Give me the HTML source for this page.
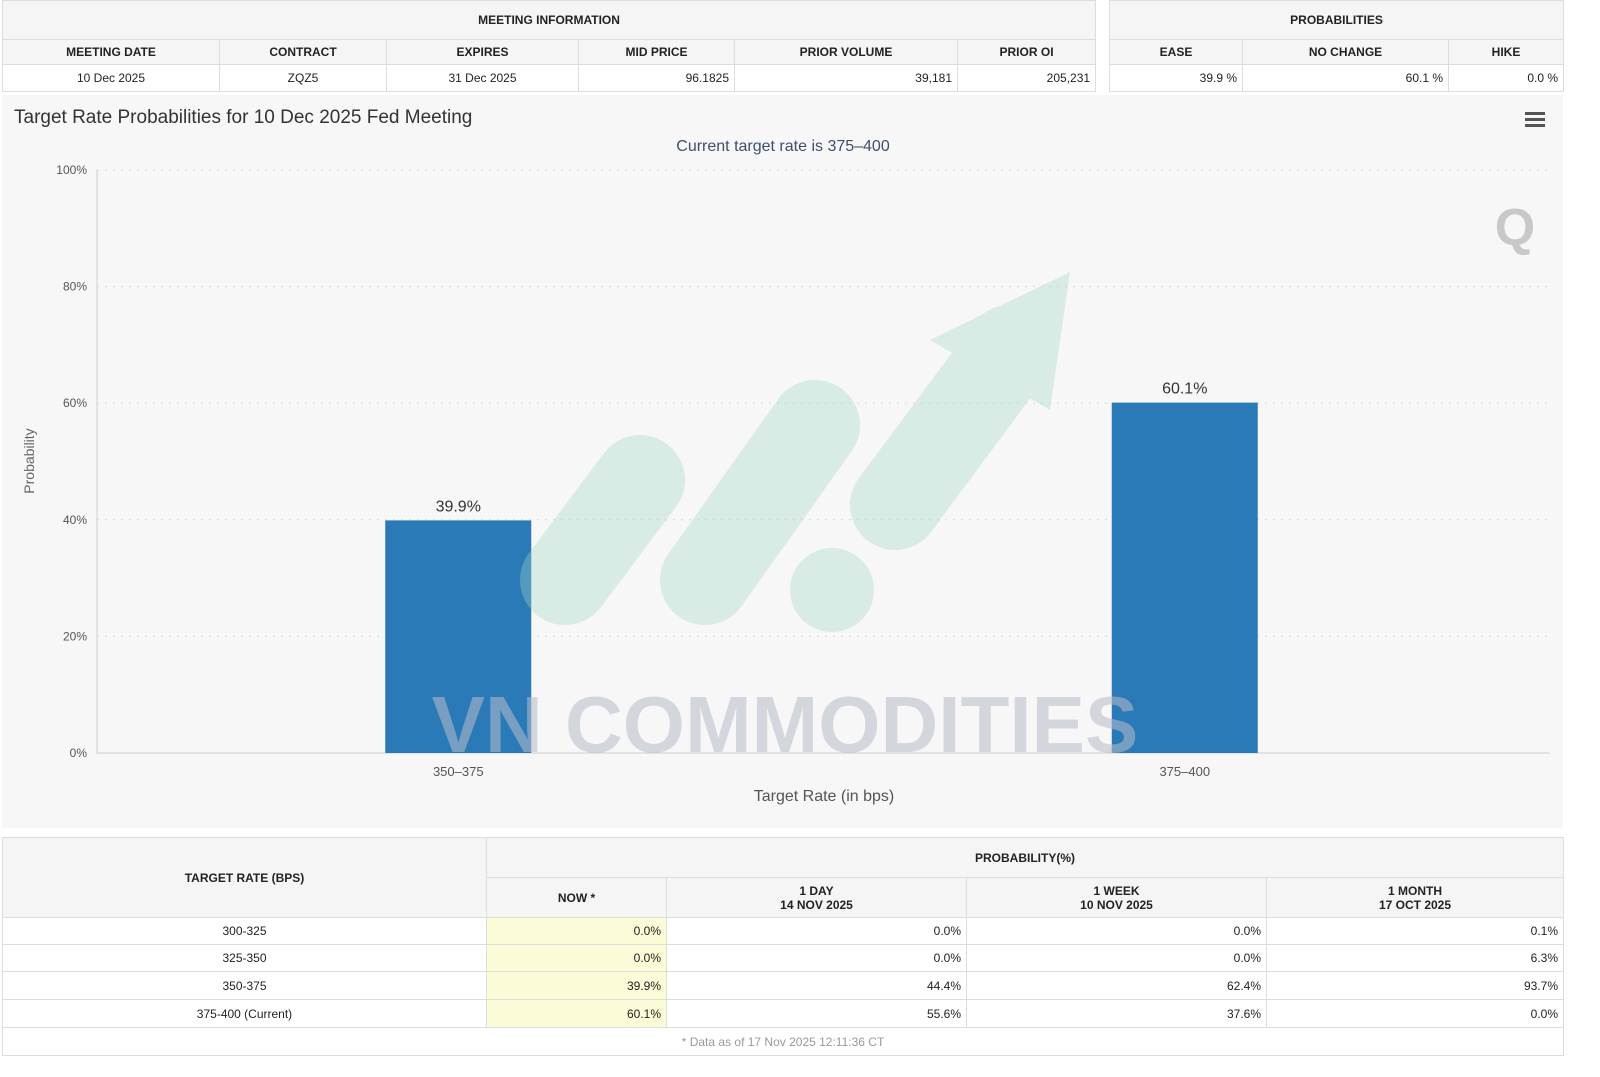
<!DOCTYPE html>
<html><head><meta charset="utf-8"><style>
body{margin:0;width:1600px;height:1077px;background:#fff;position:relative;overflow:hidden;font-family:"Liberation Sans",Arial,sans-serif;}
table{position:absolute;border-collapse:collapse;table-layout:fixed;font-size:12px;color:#222;}
td,th{border:1px solid #ddd;padding:0 5px;white-space:nowrap;overflow:hidden;}
th{background:#f5f5f5;font-weight:bold;text-align:center;font-size:12px;}
td{background:#fff;text-align:right;}
td.c{text-align:center;}
td.now{background:#fbfbd8;}
svg{position:absolute;left:0;top:0;}
</style></head><body>
<svg width="1600" height="1077">
<rect x="2" y="95" width="1561" height="733" fill="#f7f7f7"/>
<text x="14" y="123" font-size="19" fill="#333" font-family="Liberation Sans">Target Rate Probabilities for 10 Dec 2025 Fed Meeting</text>
<text x="783" y="151" font-size="16" fill="#3d4f6e" text-anchor="middle" font-family="Liberation Sans">Current target rate is 375–400</text>
<g><rect x="1525" y="112" width="20" height="3" fill="#555"/><rect x="1525" y="118" width="20" height="3" fill="#555"/><rect x="1525" y="124" width="20" height="3" fill="#555"/></g>
<text x="1515" y="245" font-size="52" font-weight="bold" fill="#c8c8c8" text-anchor="middle" font-family="Liberation Sans">Q</text>
<g id="grid"></g><g id="bars"></g>
<g opacity="0.35">
<line x1="565" y1="580" x2="640" y2="480" stroke="#9fd6c4" stroke-width="90" stroke-linecap="round"/>
<line x1="705" y1="580" x2="815" y2="425" stroke="#9fd6c4" stroke-width="90" stroke-linecap="round"/>
<circle cx="832" cy="590" r="42" fill="#9fd6c4"/>
<line x1="895" y1="505" x2="1010" y2="350" stroke="#9fd6c4" stroke-width="90" stroke-linecap="round"/>
<polygon points="930,340 1070,272 1050,410" fill="#9fd6c4"/>
</g>
<text x="785" y="752" font-size="80" font-weight="bold" fill="#b8bccb" opacity="0.55" text-anchor="middle" font-family="Liberation Sans">VN COMMODITIES</text>
<text x="34" y="461" font-size="14" fill="#666" text-anchor="middle" transform="rotate(-90 34 461)" font-family="Liberation Sans">Probability</text>
<text x="824" y="801" font-size="16" fill="#555" text-anchor="middle" font-family="Liberation Sans">Target Rate (in bps)</text>
</svg>

<table style="left:2px;top:0;width:1093px">
<colgroup><col style="width:217px"><col style="width:167px"><col style="width:192px"><col style="width:156px"><col style="width:223px"><col style="width:138px"></colgroup>
<tr style="height:39px"><th colspan="6">MEETING INFORMATION</th></tr>
<tr style="height:25px"><th>MEETING DATE</th><th>CONTRACT</th><th>EXPIRES</th><th>MID PRICE</th><th>PRIOR VOLUME</th><th>PRIOR OI</th></tr>
<tr style="height:27px"><td class="c">10 Dec 2025</td><td class="c">ZQZ5</td><td class="c">31 Dec 2025</td><td>96.1825</td><td>39,181</td><td>205,231</td></tr>
</table>
<table style="left:1109px;top:0;width:454px">
<colgroup><col style="width:133px"><col style="width:206px"><col style="width:115px"></colgroup>
<tr style="height:39px"><th colspan="3">PROBABILITIES</th></tr>
<tr style="height:25px"><th>EASE</th><th>NO CHANGE</th><th>HIKE</th></tr>
<tr style="height:27px"><td>39.9 %</td><td>60.1 %</td><td>0.0 %</td></tr>
</table>

<table style="left:2px;top:837px;width:1561px">
<colgroup><col style="width:484px"><col style="width:180px"><col style="width:300px"><col style="width:300px"><col style="width:297px"></colgroup>
<tr style="height:40px"><th rowspan="2">TARGET RATE (BPS)</th><th colspan="4">PROBABILITY(%)</th></tr>
<tr style="height:40px"><th>NOW *</th><th>1 DAY<br>14 NOV 2025</th><th>1 WEEK<br>10 NOV 2025</th><th>1 MONTH<br>17 OCT 2025</th></tr>
<tr style="height:27px"><td class="c">300-325</td><td class="now">0.0%</td><td>0.0%</td><td>0.0%</td><td>0.1%</td></tr>
<tr style="height:27px"><td class="c">325-350</td><td class="now">0.0%</td><td>0.0%</td><td>0.0%</td><td>6.3%</td></tr>
<tr style="height:28px"><td class="c">350-375</td><td class="now">39.9%</td><td>44.4%</td><td>62.4%</td><td>93.7%</td></tr>
<tr style="height:28px"><td class="c">375-400 (Current)</td><td class="now">60.1%</td><td>55.6%</td><td>37.6%</td><td>0.0%</td></tr>
<tr style="height:28px"><td colspan="5" class="c" style="color:#999">* Data as of 17 Nov 2025 12:11:36 CT</td></tr>
</table>

<script>
const categories = ["350–375", "375–400"];
const values = [39.9, 60.1];
const yTicks = [0, 20, 40, 60, 80, 100];
const NS = "http://www.w3.org/2000/svg";
const x0 = 97, x1 = 1550, yTop = 170, yBot = 753;
const y = v => yBot - (v / 100) * (yBot - yTop);
const bandW = (x1 - x0) / categories.length;
const xc = i => x0 + bandW * (i + 0.5) - 2;
const grid = document.getElementById("grid"), bars = document.getElementById("bars");
function mk(tag, attrs, parent, txt) {
  const e = document.createElementNS(NS, tag);
  for (const k in attrs) e.setAttribute(k, attrs[k]);
  if (txt !== undefined) e.textContent = txt;
  parent.appendChild(e); return e;
}
yTicks.forEach(t => {
  const l = mk("line", {x1: x0, x2: x1, y1: y(t), y2: y(t), stroke: t === 0 ? "#ccc" : "#d8d8d8", "stroke-dasharray": t === 0 ? "" : "2,6"}, grid);
  
  
  const tx = mk("text", {x: 87, y: y(t) + 4, "font-size": 12, fill: "#555", "text-anchor": "end", "font-family": "Liberation Sans"}, grid, t + "%");
  
  
});
mk("line", {x1: x0, x2: x0, y1: yTop, y2: yBot, stroke: "#ccc"}, grid);
categories.forEach((c, i) => {
  const w = 146;
  const r = mk("rect", {x: xc(i) - w / 2, y: y(values[i]), width: w, height: yBot - y(values[i]), fill: "#2a7ab8"}, bars);
  
  
  const lb = mk("text", {x: xc(i), y: y(values[i]) - 9, "font-size": 16, fill: "#333", "text-anchor": "middle", "font-family": "Liberation Sans"}, bars, values[i] + "%");
  
  
  const xl = mk("text", {x: xc(i), y: 776, "font-size": 13, fill: "#555", "text-anchor": "middle", "font-family": "Liberation Sans"}, bars, c);
  
  
});
</script>
</body></html>
